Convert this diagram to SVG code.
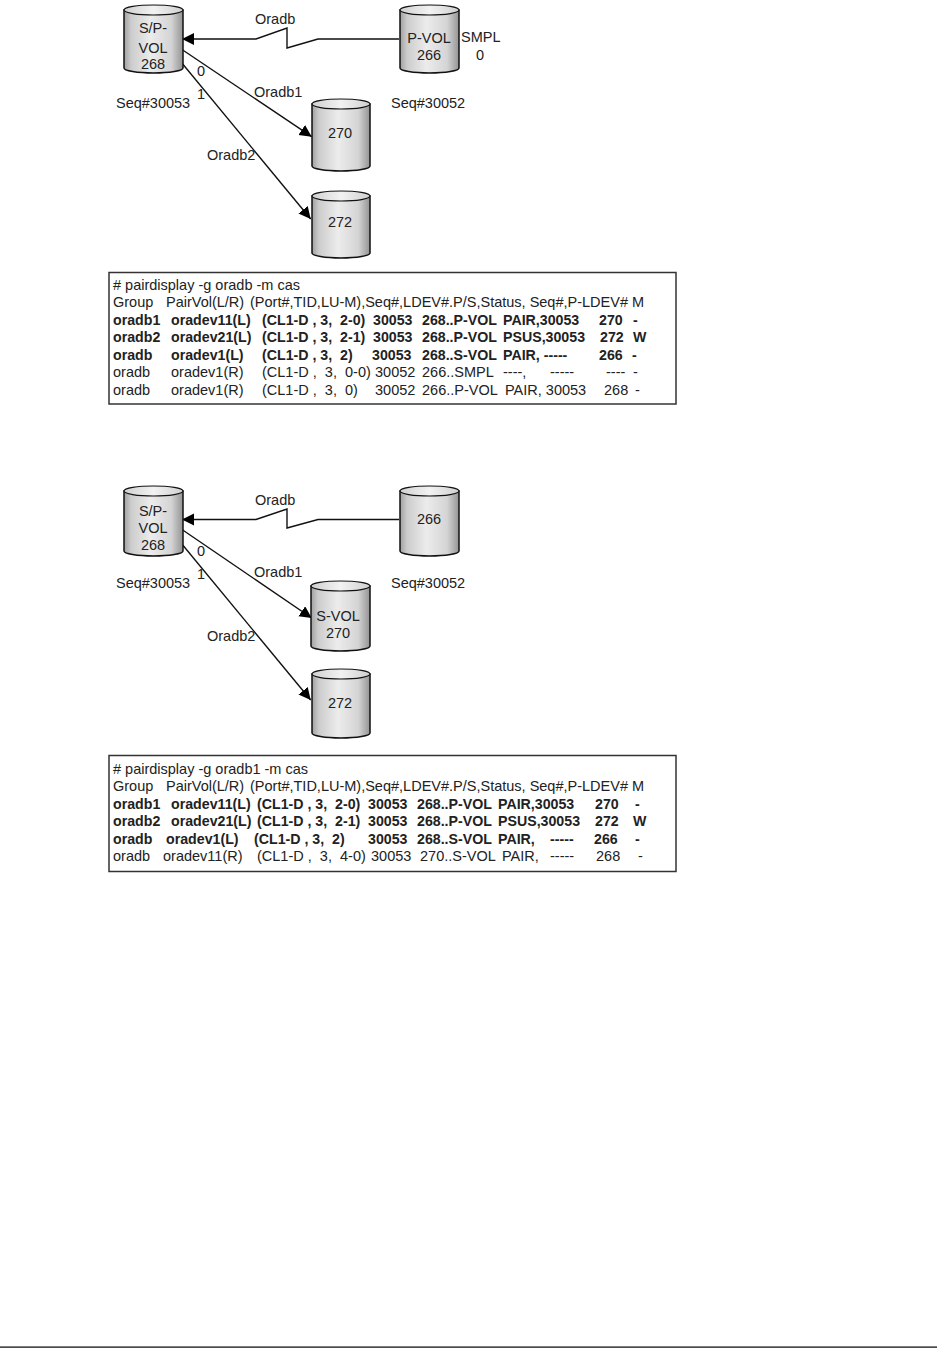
<svg xmlns="http://www.w3.org/2000/svg" width="937" height="1349" viewBox="0 0 937 1349">
<style>
text{font-family:"Liberation Sans",Arial,sans-serif;fill:#222;white-space:pre}
.l{font-size:14.5px}
.m{text-anchor:middle}
.t{font-size:14.5px}
.b{font-weight:bold;font-size:14.2px}
.body{fill:url(#cyl);stroke:#111;stroke-width:1.5}
.top{fill:url(#cap);stroke:#111;stroke-width:1.2}
.box{fill:#fff;stroke:#333;stroke-width:1.5}
.c{fill:none;stroke:#111;stroke-width:1.4}
</style>
<defs>
<linearGradient id="cyl" x1="0" x2="1" y1="0" y2="0">
<stop offset="0" stop-color="#a0a0a0"/><stop offset=".12" stop-color="#cccccc"/><stop offset=".45" stop-color="#ececec"/><stop offset=".8" stop-color="#d4d4d4"/><stop offset="1" stop-color="#939393"/>
</linearGradient>
<linearGradient id="cap" x1="0" x2="1" y1="0" y2="0">
<stop offset="0" stop-color="#d0d0d0"/><stop offset=".5" stop-color="#f2f2f2"/><stop offset="1" stop-color="#d0d0d0"/>
</linearGradient>
<marker id="arr" markerUnits="userSpaceOnUse" markerWidth="14" markerHeight="14" refX="12" refY="6" orient="auto"><path d="M0 0L12 6L0 12z" fill="#000"/></marker>
</defs>

<g id="connectors-top">
<path class="c" marker-end="url(#arr)" d="M399 39H318L287 48V28L256 39H182"/>
<path class="c" marker-end="url(#arr)" d="M182.700 50L311.700 136.700"/>
<path class="c" marker-end="url(#arr)" d="M182.700 64L310.700 219"/>
</g>
<g id="vol268a"><path class="body" d="M124 10V68A29.500 5 0 0 0 183 68V10z"/><ellipse class="top" cx="153.500" cy="10" rx="29.500" ry="5"/><text class="l m" x="153" y="33">S/P-</text><text class="l m" x="153" y="53">VOL</text><text class="l m" x="153" y="69">268</text></g>
<g id="vol266a"><path class="body" d="M400 10V68A29.500 5 0 0 0 459 68V10z"/><ellipse class="top" cx="429.500" cy="10" rx="29.500" ry="5"/><text class="l m" x="429" y="43">P-VOL</text><text class="l m" x="429" y="60">266</text></g>
<g id="vol270a"><path class="body" d="M312 104V166A29 5 0 0 0 370 166V104z"/><ellipse class="top" cx="341" cy="104" rx="29" ry="5"/><text class="l m" x="340" y="138">270</text></g>
<g id="vol272a"><path class="body" d="M312 196V253A29 5 0 0 0 370 253V196z"/><ellipse class="top" cx="341" cy="196" rx="29" ry="5"/><text class="l m" x="340" y="227">272</text></g>
<g id="labels-top">
<text class="l" x="255" y="24">Oradb</text><text class="l" x="254" y="97">Oradb1</text><text class="l" x="207" y="160">Oradb2</text>
<text class="l" x="197" y="76">0</text><text class="l" x="197" y="99">1</text>
<text class="l" x="116" y="108">Seq#30053</text><text class="l" x="391" y="108">Seq#30052</text>
<text class="l" x="461" y="42">SMPL</text><text class="l" x="476" y="60">0</text>
</g>
<g id="table-top">
<rect class="box" x="109" y="272.500" width="567" height="131.500"/>
<text class="t" x="113" y="290"># pairdisplay -g oradb -m cas</text>
<text class="t" y="307"><tspan x="113">Group</tspan><tspan x="166">PairVol(L/R)</tspan><tspan x="250">(Port#,TID,LU-M),Seq#,LDEV#.P/S,Status, Seq#,P-LDEV# M</tspan></text>
<text class="t b" y="325"><tspan x="113">oradb1</tspan><tspan x="171">oradev11(L)</tspan><tspan x="262">(CL1-D , 3,  2-0)</tspan><tspan x="373">30053</tspan><tspan x="422">268..P-VOL</tspan><tspan x="503">PAIR,30053</tspan><tspan x="599">270</tspan><tspan x="633">-</tspan></text>
<text class="t b" y="342"><tspan x="113">oradb2</tspan><tspan x="171">oradev21(L)</tspan><tspan x="262">(CL1-D , 3,  2-1)</tspan><tspan x="373">30053</tspan><tspan x="422">268..P-VOL</tspan><tspan x="503">PSUS,30053</tspan><tspan x="600">272</tspan><tspan x="633">W</tspan></text>
<text class="t b" y="360"><tspan x="113">oradb</tspan><tspan x="171">oradev1(L)</tspan><tspan x="262">(CL1-D , 3,  2)</tspan><tspan x="372">30053</tspan><tspan x="422">268..S-VOL</tspan><tspan x="503">PAIR, -----</tspan><tspan x="599">266</tspan><tspan x="632">-</tspan></text>
<text class="t" y="377"><tspan x="113">oradb</tspan><tspan x="171">oradev1(R)</tspan><tspan x="262">(CL1-D ,  3,  0-0)</tspan><tspan x="375">30052</tspan><tspan x="422">266..SMPL</tspan><tspan x="503">----,</tspan><tspan x="550">-----</tspan><tspan x="606">----</tspan><tspan x="633">-</tspan></text>
<text class="t" y="395"><tspan x="113">oradb</tspan><tspan x="171">oradev1(R)</tspan><tspan x="262">(CL1-D ,  3,  0)</tspan><tspan x="375">30052</tspan><tspan x="422">266..P-VOL</tspan><tspan x="505">PAIR, 30053</tspan><tspan x="604">268</tspan><tspan x="635">-</tspan></text>
</g>

<g id="connectors-bottom">
<path class="c" marker-end="url(#arr)" d="M399 519.500H318L287 528V509L256 519.500H182"/>
<path class="c" marker-end="url(#arr)" d="M182.700 530L311.700 618"/>
<path class="c" marker-end="url(#arr)" d="M182.700 545L310.700 700"/>
</g>
<g id="vol268b"><path class="body" d="M124 491V551A29.500 5 0 0 0 183 551V491z"/><ellipse class="top" cx="153.500" cy="491" rx="29.500" ry="5"/><text class="l m" x="153" y="516">S/P-</text><text class="l m" x="153" y="533">VOL</text><text class="l m" x="153" y="550">268</text></g>
<g id="vol266b"><path class="body" d="M400 491V551A29.500 5 0 0 0 459 551V491z"/><ellipse class="top" cx="429.500" cy="491" rx="29.500" ry="5"/><text class="l m" x="429" y="524">266</text></g>
<g id="vol270b"><path class="body" d="M311 586V646A29.500 5 0 0 0 370 646V586z"/><ellipse class="top" cx="340.500" cy="586" rx="29.500" ry="5"/><text class="l m" x="338" y="621">S-VOL</text><text class="l m" x="338" y="638">270</text></g>
<g id="vol272b"><path class="body" d="M312 674V733A29 5 0 0 0 370 733V674z"/><ellipse class="top" cx="341" cy="674" rx="29" ry="5"/><text class="l m" x="340" y="708">272</text></g>
<g id="labels-bottom">
<text class="l" x="255" y="505">Oradb</text><text class="l" x="254" y="577">Oradb1</text><text class="l" x="207" y="641">Oradb2</text>
<text class="l" x="197" y="556">0</text><text class="l" x="197" y="579">1</text>
<text class="l" x="116" y="588">Seq#30053</text><text class="l" x="391" y="588">Seq#30052</text>
</g>
<g id="table-bottom">
<rect class="box" x="109" y="755.500" width="567" height="116"/>
<text class="t" x="113" y="774"># pairdisplay -g oradb1 -m cas</text>
<text class="t" y="791"><tspan x="113">Group</tspan><tspan x="166">PairVol(L/R)</tspan><tspan x="250">(Port#,TID,LU-M),Seq#,LDEV#.P/S,Status, Seq#,P-LDEV# M</tspan></text>
<text class="t b" y="809"><tspan x="113">oradb1</tspan><tspan x="171">oradev11(L)</tspan><tspan x="257">(CL1-D , 3,  2-0)</tspan><tspan x="368">30053</tspan><tspan x="417">268..P-VOL</tspan><tspan x="498">PAIR,30053</tspan><tspan x="595">270</tspan><tspan x="635">-</tspan></text>
<text class="t b" y="826"><tspan x="113">oradb2</tspan><tspan x="171">oradev21(L)</tspan><tspan x="257">(CL1-D , 3,  2-1)</tspan><tspan x="368">30053</tspan><tspan x="417">268..P-VOL</tspan><tspan x="498">PSUS,30053</tspan><tspan x="595">272</tspan><tspan x="633">W</tspan></text>
<text class="t b" y="844"><tspan x="113">oradb</tspan><tspan x="166">oradev1(L)</tspan><tspan x="254">(CL1-D , 3,  2)</tspan><tspan x="368">30053</tspan><tspan x="417">268..S-VOL</tspan><tspan x="498">PAIR,</tspan><tspan x="550">-----</tspan><tspan x="594">266</tspan><tspan x="635">-</tspan></text>
<text class="t" y="861"><tspan x="113">oradb</tspan><tspan x="163">oradev11(R)</tspan><tspan x="257">(CL1-D ,  3,  4-0)</tspan><tspan x="371">30053</tspan><tspan x="420">270..S-VOL</tspan><tspan x="502">PAIR,</tspan><tspan x="550">-----</tspan><tspan x="596">268</tspan><tspan x="638">-</tspan></text>
</g>
<rect id="footer-rule" x="0" y="1346.500" width="937" height="1.200" fill="#000"/>
</svg>
